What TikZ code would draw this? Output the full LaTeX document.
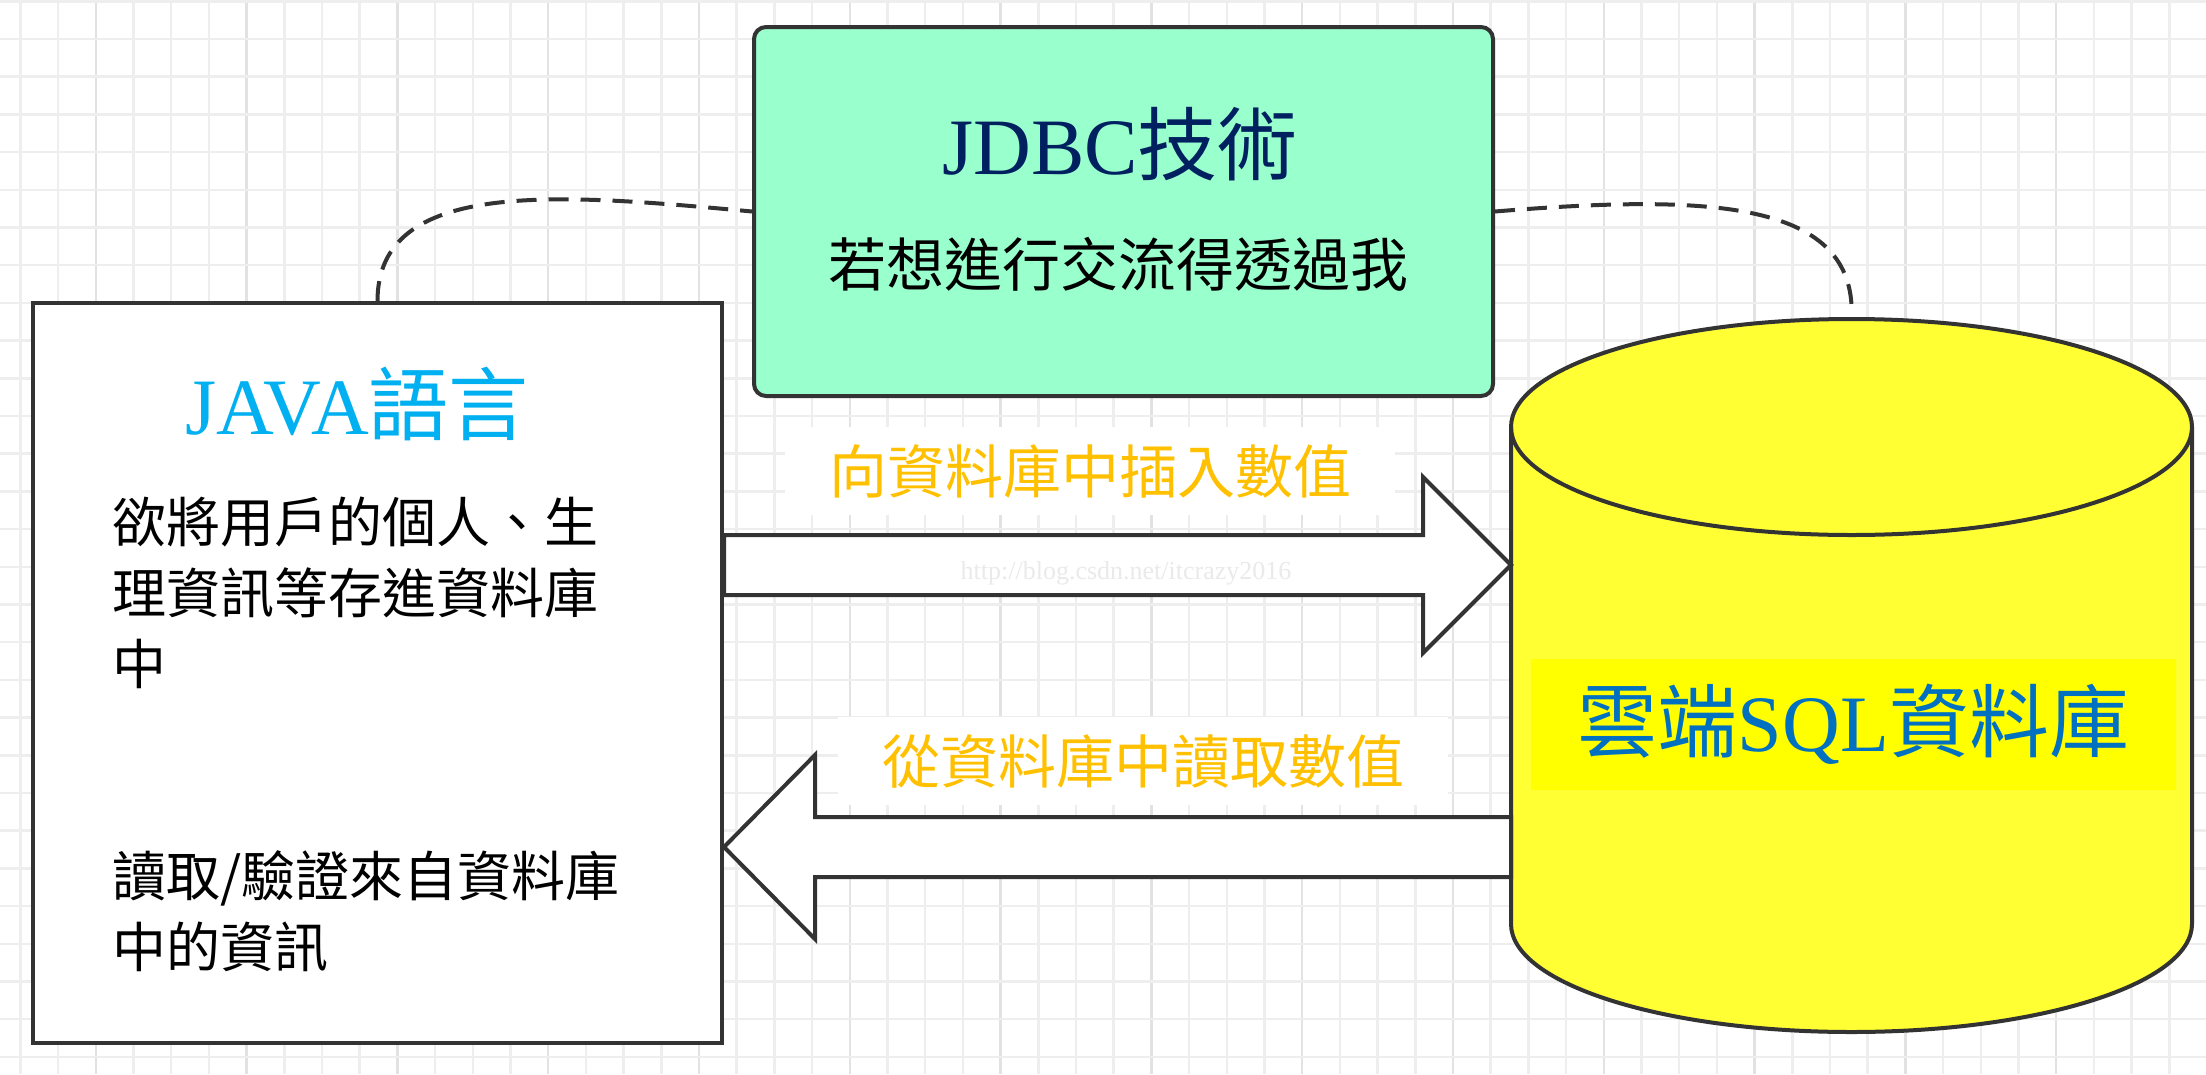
\documentclass[tikz,border=0pt]{standalone}
\usepackage{fontspec}
\setmainfont{Liberation Serif}
\newfontfamily\cjk{Noto Sans CJK TC}
\usetikzlibrary{calc}
\definecolor{gridminor}{RGB}{238,238,238}
\definecolor{gridmajor}{RGB}{226,226,226}
\definecolor{jdbcgreen}{RGB}{153,255,204}
\definecolor{dbyellow}{RGB}{255,255,51}
\definecolor{hlyellow}{RGB}{255,255,0}
\definecolor{javablue}{RGB}{0,176,240}
\definecolor{jdbcnavy}{RGB}{0,32,96}
\definecolor{sqlblue}{RGB}{0,112,192}
\definecolor{flowgold}{RGB}{255,192,0}
\definecolor{outline}{RGB}{51,51,51}
\definecolor{markgray}{RGB}{234,234,234}
\begin{document}
\begin{tikzpicture}[
            x=1pt, y=-1pt,
            box/.style={draw=outline, line width=4pt, inner sep=0pt},
            link/.style={draw=outline, line width=4pt, dash pattern=on 20pt off 12pt},
            flow/.style={draw=outline, line width=4pt, fill=white},
            flowlabel/.style={fill=white, text=flowgold, font=\cjk\fontsize{58}{58}\selectfont, inner xsep=44pt, inner ysep=17pt},
            title/.style={font=\cjk\fontsize{80}{80}\selectfont, inner sep=0pt},
            bodytext/.style={font=\cjk\fontsize{54}{71}\selectfont, align=left, anchor=north west, inner sep=0pt}
            ]
        \useasboundingbox (0,0) rectangle (2206,1074);
        \fill[white] (0,0) rectangle (2206,1074);
        \foreach \i in {0,...,58}
            \draw[gridminor, line width=2.5pt] ({20.4+37.7*\i},0) -- ({20.4+37.7*\i},1074);
        \foreach \i in {2,6,...,58}
            \draw[gridmajor, line width=2.5pt] ({20.4+37.7*\i},0) -- ({20.4+37.7*\i},1074);
        \foreach \j in {0,...,28}
            \draw[gridminor, line width=2.5pt] (0,{1.3+37.7*\j}) -- (2206,{1.3+37.7*\j});

        \node[box, fill=white, minimum width=689pt, minimum height=740pt] (java) at (377.5,673) {};
        \node[box, fill=jdbcgreen, rounded corners=12pt, minimum width=739pt, minimum height=369pt] (jdbc) at (1123.5,211.5) {};
        \coordinate (dbtop) at (1851.5,305);
        \coordinate (dbside) at (1511,0);
        \coordinate (insrow) at (0,565);
        \coordinate (readrow) at (0,847);

        \draw[link] (java.north) .. controls +(0,-123) and +(-194,-18) .. (jdbc.west);
        \draw[link] (jdbc.east) .. controls +(207,-17) and +(-6,-105) .. (dbtop);

        \node[title, text=javablue] (javatitle) at (357,404) {{\rmfamily JAVA}語言};
        \node[bodytext] (javastore) at (112,497) {欲將用戶的個人、生\\理資訊等存進資料庫\\中};
        \node[bodytext] (javaread) at (112,850) {讀取/驗證來自資料庫\\中的資訊};
        \node[title, text=jdbcnavy] (jdbctitle) at (1120,144) {{\rmfamily JDBC}技術};
        \node[font=\cjk\fontsize{58}{58}\selectfont, inner sep=0pt] (jdbcnote) at (1118,264) {若想進行交流得透過我};

        \draw[box, fill=dbyellow] (1511,427) -- (1511,924)
            arc[start angle=180, end angle=360, x radius=340.5pt, y radius=108pt] -- (2192,427)
            arc[start angle=0, end angle=180, x radius=340.5pt, y radius=108pt] -- cycle;
        \draw[box] (1511,427) arc[start angle=180, end angle=360, x radius=340.5pt, y radius=108pt];
        \node[title, fill=hlyellow, text=sqlblue, minimum width=645pt, minimum height=131pt] (dblabel) at (1853.5,724.5) {雲端{\rmfamily SQL}資料庫};

        \draw[flow] ($(java.east |- insrow)+(0,-30)$) -- ($(dbside |- insrow)+(-88,-30)$) -- ++(0,-58)
            -- (dbside |- insrow) -- ($(dbside |- insrow)+(-88,88)$) -- ++(0,-58)
            -- ($(java.east |- insrow)+(0,30)$) -- cycle;
        \draw[flow] ($(dbside |- readrow)+(0,-30)$) -- ($(java.east |- readrow)+(91,-30)$) -- ++(0,-62)
            -- (java.east |- readrow) -- ($(java.east |- readrow)+(91,92)$) -- ++(0,-62)
            -- ($(dbside |- readrow)+(0,30)$) -- cycle;
        \node[text=markgray, font=\fontsize{26}{26}\selectfont] (mark) at (1126,573) {http://blog.csdn.net/itcrazy2016};

        \node[flowlabel] (inslabel) at (1090,471) {向資料庫中插入數值};
        \node[flowlabel] (readlabel) at (1143,761) {從資料庫中讀取數值};
        \end{tikzpicture}
\end{document}
